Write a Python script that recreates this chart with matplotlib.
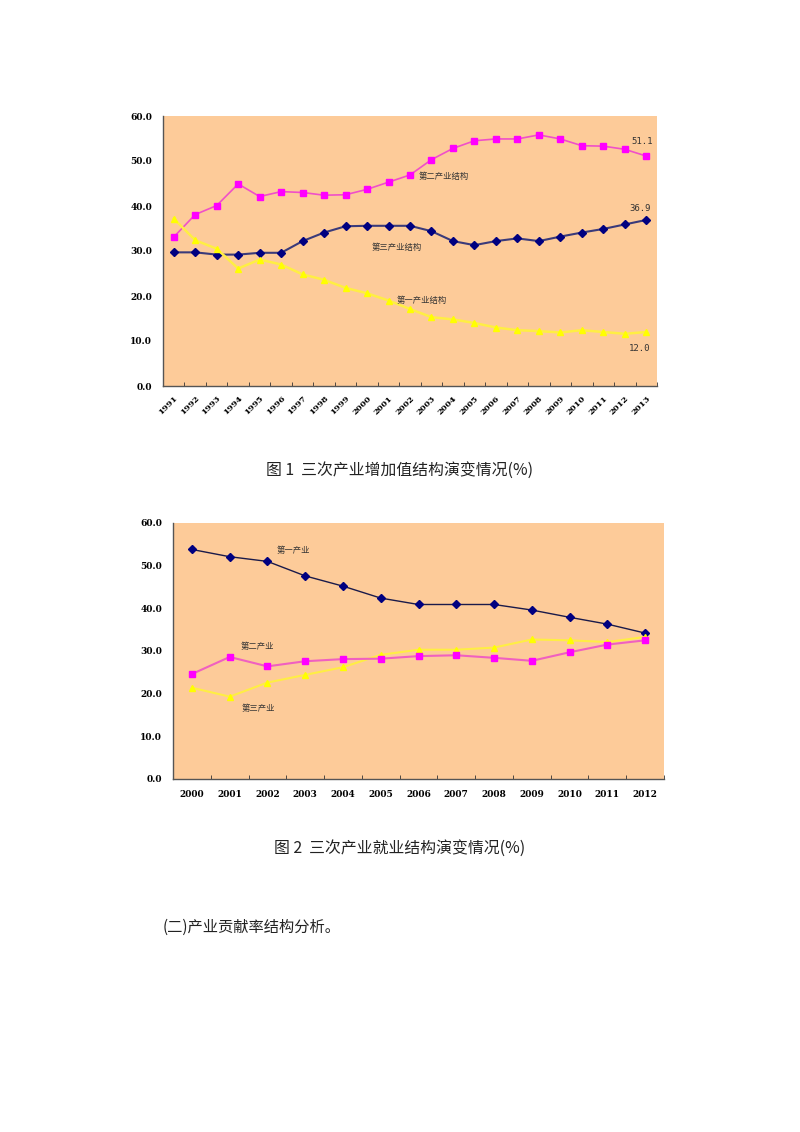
import matplotlib
matplotlib.use("Agg")
import matplotlib.pyplot as plt
import numpy as np

plt.rcParams['font.family'] = ['Noto Sans CJK SC', 'DejaVu Sans']

# ---- Chart 1 data: value-added structure (%) ----
years1 = [str(y) for y in range(1991, 2014)]
secondary1 = [33.1, 38.1, 40.1, 44.9, 42.1, 43.2, 43.0, 42.4, 42.5, 43.7, 45.3,
              46.9, 50.3, 52.8, 54.5, 54.9, 54.9, 55.8, 54.9, 53.4, 53.3, 52.6, 51.1]
tertiary1 = [29.7, 29.7, 29.2, 29.2, 29.6, 29.6, 32.2, 34.1, 35.5, 35.6, 35.6,
             35.6, 34.4, 32.2, 31.3, 32.2, 32.8, 32.2, 33.2, 34.1, 34.9, 35.9, 36.9]
primary1 = [37.2, 32.4, 30.5, 26.1, 28.1, 27.0, 24.8, 23.6, 21.8, 20.6, 19.0,
            17.1, 15.3, 14.8, 14.0, 13.0, 12.4, 12.2, 11.9, 12.4, 12.0, 11.6, 12.0]

# ---- Chart 2 data: employment structure (%) ----
years2 = [str(y) for y in range(2000, 2013)]
primary2 = [53.8, 52.1, 51.0, 47.6, 45.2, 42.4, 40.9, 40.9, 40.9, 39.6, 37.9, 36.3, 34.2]
secondary2 = [24.6, 28.6, 26.4, 27.6, 28.1, 28.2, 28.8, 29.0, 28.4, 27.7, 29.7, 31.5, 32.5]
tertiary2 = [21.4, 19.3, 22.6, 24.4, 26.2, 29.1, 30.3, 30.3, 30.8, 32.7, 32.5, 32.1, 33.3]

yticks = [0, 10, 20, 30, 40, 50, 60]
ytick_labels = ['0.0', '10.0', '20.0', '30.0', '40.0', '50.0', '60.0']

BG = '#FDCB99'
NAVY = '#000080'
MAG = '#FF00FF'
MAG_LINE = '#F050C8'
YEL = '#FFFF00'
YEL_LINE = '#FFEE44'

fig = plt.figure(figsize=(8.0, 11.32), dpi=100)
W, H = 800, 1132

def add_axes_px(left, top, right, bottom):
    return fig.add_axes([left / W, 1 - bottom / H, (right - left) / W, (bottom - top) / H])

def style_axes(ax, n, labels, rotate):
    ax.set_facecolor(BG)
    ax.set_xlim(-0.5, n - 0.5)
    ax.set_ylim(0, 60)
    ax.set_yticks(yticks)
    ax.set_yticklabels(ytick_labels, fontsize=6.5, fontweight='bold', family='DejaVu Serif')
    ax.set_xticks(range(n))
    if rotate:
        ax.set_xticklabels(labels, fontsize=6, fontweight='bold', family='DejaVu Serif',
                           rotation=45, ha='right', rotation_mode='anchor')
    else:
        ax.set_xticklabels(labels, fontsize=6.5, fontweight='bold', family='DejaVu Serif')
    ax.tick_params(axis='x', length=0, pad=6)
    ax.tick_params(axis='y', length=0, pad=8)
    ax.set_xticks(np.arange(-0.5, n, 1.0), minor=True)
    ax.tick_params(axis='x', which='minor', direction='in', length=3, color='#333333')
    for s in ['top', 'right']:
        ax.spines[s].set_visible(False)
    for s in ['left', 'bottom']:
        ax.spines[s].set_color('#555555')
        ax.spines[s].set_linewidth(1.0)

# ---------------- Chart 1 ----------------
ax1 = add_axes_px(163, 116, 657, 386)
x1 = np.arange(len(years1))
ax1.plot(x1, secondary1, color=MAG_LINE, lw=1.2, marker='s', ms=5,
         mfc=MAG, mec=MAG, zorder=3)
ax1.plot(x1, tertiary1, color='#3A3A7A', lw=1.5, marker='D', ms=4,
         mfc=NAVY, mec=NAVY, zorder=3)
ax1.plot(x1, primary1, color=YEL_LINE, lw=1.8, marker='^', ms=5,
         mfc=YEL, mec=YEL, zorder=3)
style_axes(ax1, len(years1), years1, rotate=True)

ax1.text(11.4, 46.6, '第二产业结构', fontsize=6, color='#333333', va='center', ha='left')
ax1.text(9.2, 30.8, '第三产业结构', fontsize=6, color='#333333', va='center', ha='left')
ax1.text(10.4, 19.0, '第一产业结构', fontsize=6, color='#333333', va='center', ha='left')
ax1.text(21.8, 54.4, '%.1f' % secondary1[-1], fontsize=6.5, color='#333333',
         va='center', ha='center', family='DejaVu Sans Mono')
ax1.text(21.7, 39.5, '%.1f' % tertiary1[-1], fontsize=6.5, color='#333333',
         va='center', ha='center', family='DejaVu Sans Mono')
ax1.text(21.7, 8.4, '%.1f' % primary1[-1], fontsize=6.5, color='#333333',
         va='center', ha='center', family='DejaVu Sans Mono')

# ---------------- Chart 2 ----------------
ax2 = add_axes_px(173, 523, 664, 779)
x2 = np.arange(len(years2))
ax2.plot(x2, primary2, color='#1A1A4A', lw=1.0, marker='D', ms=4,
         mfc=NAVY, mec=NAVY, zorder=3)
ax2.plot(x2, tertiary2, color=YEL_LINE, lw=1.5, marker='^', ms=5,
         mfc=YEL, mec=YEL, zorder=3)
ax2.plot(x2, secondary2, color='#F060C0', lw=1.5, marker='s', ms=5,
         mfc=MAG, mec=MAG, zorder=3)
style_axes(ax2, len(years2), years2, rotate=False)
ax2.tick_params(axis='x', pad=8)

ax2.text(2.7, 53.6, '第一产业', fontsize=6, color='#333333', va='center', ha='center')
ax2.text(1.73, 31.1, '第二产业', fontsize=6, color='#333333', va='center', ha='center')
ax2.text(1.77, 16.5, '第三产业', fontsize=6, color='#333333', va='center', ha='center')

# ---------------- Captions ----------------
fig.text(0.5, 1 - 470 / H, '图 1  三次产业增加值结构演变情况(%)', fontsize=11.4,
         ha='center', va='center', color='#222222')
fig.text(0.5, 1 - 848 / H, '图 2  三次产业就业结构演变情况(%)', fontsize=11.4,
         ha='center', va='center', color='#222222')
fig.text(163 / W, 1 - 927 / H, '(二)产业贡献率结构分析。', fontsize=11,
         ha='left', va='center', color='#222222')

fig.savefig('out.png', dpi=100, facecolor='white')
